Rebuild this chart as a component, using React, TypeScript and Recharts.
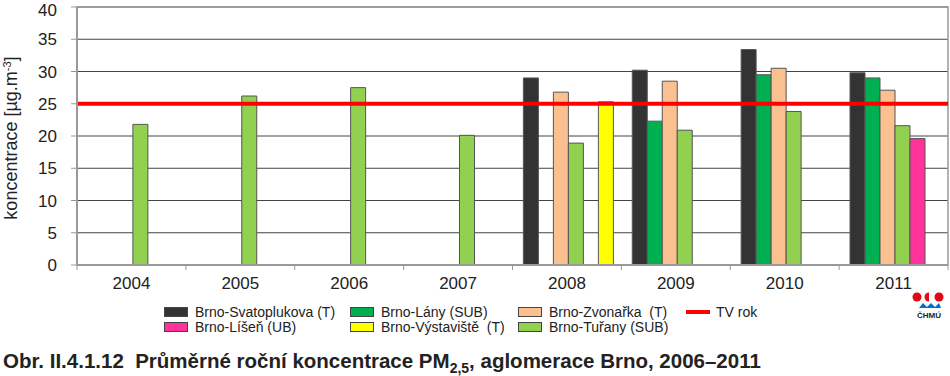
import React from 'react';
import { BarChart, Bar, XAxis, YAxis, CartesianGrid, ReferenceLine, ReferenceArea } from 'recharts';

// roky a hodnoty PM2,5 [µg.m-3]
const YEARS = ['2004', '2005', '2006', '2007', '2008', '2009', '2010', '2011'];
const SVATOPLUKOVA = [null, null, null, null, 29.0, 30.2, 33.4, 29.8];
const LANY = [null, null, null, null, null, 22.3, 29.5, 29.0];
const ZVONARKA = [null, null, null, null, 26.8, 28.5, 30.5, 27.1];
const TURANY = [21.8, 26.2, 27.5, 20.1, 18.9, 20.9, 23.8, 21.6];
const LISEN = [null, null, null, null, null, null, null, 19.6];
const VYSTAVISTE = [null, null, null, null, 25.3, null, null, null];
const TV_ROK = 25;
const Y_TICKS = [0, 5, 10, 15, 20, 25, 30, 35, 40];

const SERIES = [
  { key: 'svat', name: 'Brno-Svatoplukova (T)', color: '#333333', values: SVATOPLUKOVA },
  { key: 'lany', name: 'Brno-Lány (SUB)', color: '#00B050', values: LANY },
  { key: 'zvon', name: 'Brno-Zvonařka  (T)', color: '#FAC090', values: ZVONARKA },
  { key: 'tur', name: 'Brno-Tuřany (SUB)', color: '#92D050', values: TURANY },
  { key: 'lis', name: 'Brno-Líšeň (UB)', color: '#FF3399', values: LISEN },
  { key: 'vys', name: 'Brno-Výstaviště  (T)', color: '#FFFF00', values: VYSTAVISTE },
];

const data = YEARS.map((year, i) => {
  const row: any = { year };
  SERIES.forEach((s) => { row[s.key] = s.values[i]; });
  return row;
});

const W = 950;
const H = 300;
const Y_AXIS_W = 77;
const RIGHT = 2;
const PLOT_BOTTOM = 265;
const BAND = (W - Y_AXIS_W - RIGHT) / YEARS.length;

const XTick = ({ x, y, payload, index }: any) => (
  <g>
    <line x1={x - BAND / 2} x2={x - BAND / 2} y1={PLOT_BOTTOM} y2={PLOT_BOTTOM + 5} stroke="#999" />
    {index === YEARS.length - 1 && (
      <line x1={x + BAND / 2} x2={x + BAND / 2} y1={PLOT_BOTTOM} y2={PLOT_BOTTOM + 5} stroke="#999" />
    )}
    <text x={x} y={y} dy="0.71em" textAnchor="middle" fontSize={17} fill="#222">{payload.value}</text>
  </g>
);

const YLabel = () => (
  <text x={17} y={138} transform="rotate(-90, 17, 138)" textAnchor="middle" fontSize={18} fill="#222">
    koncentrace [µg.m<tspan dy={-6} fontSize={11}>-3</tspan><tspan dy={6}>]</tspan>
  </text>
);

// rozložení legendy: [řádek][sloupec]
const LEGEND_COLS = [164, 350, 518, 686];
const LEGEND_ROWS = [
  ['svat', 'lany', 'zvon', 'tv'],
  ['lis', 'vys', 'tur'],
];

const Legenda = () => (
  <>
    {LEGEND_ROWS.map((row, r) =>
      row.map((key, c) => {
        const s = SERIES.find((x) => x.key === key);
        return (
          <div key={key} style={{ position: 'absolute', left: LEGEND_COLS[c], top: 304 + r * 15, height: 15, display: 'flex', alignItems: 'center', fontSize: 14, color: '#222', whiteSpace: 'pre' }}>
            {s ? (
              <span style={{ width: 22, height: 8, background: s.color, border: '1px solid #444', marginRight: 7 }} />
            ) : (
              <span style={{ width: 24, height: 4, background: '#FF0000', marginRight: 6 }} />
            )}
            <span>{s ? s.name : 'TV rok'}</span>
          </div>
        );
      })
    )}
  </>
);

const Logo = () => (
  <svg style={{ position: 'absolute', left: 911, top: 290 }} width={36} height={32}>
    <circle cx={6} cy={7} r={4.5} fill="#E30613" />
    <path d="M18 2.5 A4.5 4.5 0 0 0 18 11.5 Z" fill="#E30613" />
    <circle cx={28} cy={7} r={4.5} fill="#E30613" />
    <path d="M8 18 L12 13 L16 17 L20 13 L24 17 L28 13 L30 18 Z" fill="#0073C6" />
    <text x={18} y={28} textAnchor="middle" fontSize={8} fontWeight="bold" fill="#222">ČHMÚ</text>
  </svg>
);

export default function App() {
  return (
    <div style={{ position: 'absolute', left: 0, top: 0, width: 950, height: 376, background: '#fff', fontFamily: '"Liberation Sans", Arial, sans-serif', overflow: 'hidden' }}>
      <BarChart
        width={W}
        height={H}
        data={data}
        margin={{ top: 7, right: RIGHT, left: 0, bottom: H - PLOT_BOTTOM - 25 }}
        barCategoryGap="10%"
        barGap={0}
        style={{ fontFamily: '"Liberation Sans", Arial, sans-serif' }}
      >
        <CartesianGrid vertical={false} stroke="#444" />
        <ReferenceArea y1={0} y2={40} fill="none" stroke="#999" strokeWidth={1.5} />
        <XAxis dataKey="year" height={25} tickSize={4} tickMargin={8} tickLine={false} axisLine={{ stroke: '#999', strokeWidth: 2 }} tick={<XTick />} interval={0} />
        <YAxis
          width={Y_AXIS_W}
          domain={[0, 40]}
          ticks={Y_TICKS}
          tickSize={6}
          tickMargin={14}
          tick={{ fontSize: 17, fill: '#222' }}
          tickLine={{ stroke: '#999' }}
          axisLine={{ stroke: '#999', strokeWidth: 2 }}
          label={<YLabel />}
        />
        {SERIES.map((s) => (
          <Bar key={s.key} dataKey={s.key} name={s.name} fill={s.color} stroke="#555" strokeWidth={1} isAnimationActive={false} />
        ))}
        <ReferenceLine y={TV_ROK} stroke="#FF0000" strokeWidth={4} />
      </BarChart>
      <Legenda />
      <Logo />
      <div style={{ position: 'absolute', left: 3, top: 351, fontSize: 20.5, lineHeight: '20px', fontWeight: 'bold', color: '#222', whiteSpace: 'pre' }}>
        Obr. II.4.1.12  Průměrné roční koncentrace PM<sub style={{ fontSize: 14, lineHeight: 0, verticalAlign: -5 }}>2,5</sub>, aglomerace Brno, 2006–2011
      </div>
    </div>
  );
}
